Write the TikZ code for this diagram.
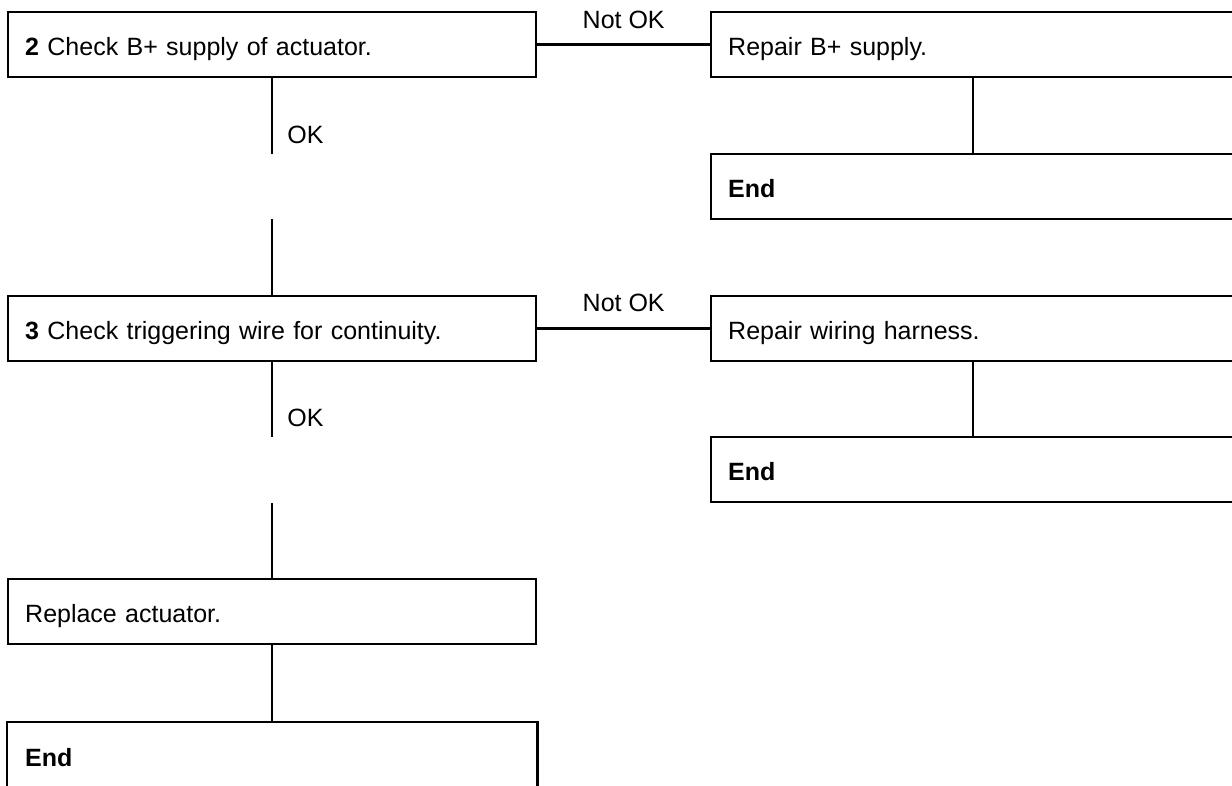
\documentclass[tikz,border=0pt]{standalone}
\usepackage{fontspec}
\setmainfont{Liberation Sans}
\usetikzlibrary{calc}
\begin{document}
\begin{tikzpicture}[x=1pt,y=-1pt,
  box/.style={draw, line width=2.4pt, rectangle, anchor=north west, minimum height=65pt,
    inner xsep=17pt, inner ysep=0pt, align=left, text height=21pt, text depth=0pt,
    font=\fontsize{25}{30}\selectfont},
  lbox/.style={box, text width=494pt},
  rbox/.style={box, text width=506pt},
  conn/.style={line width=2.4pt},
  lab/.style={font=\fontsize{25}{30}\selectfont, inner sep=0pt}]
\useasboundingbox (0,0) rectangle (1232,786);
\clip (0,0) rectangle (1232,786);
% left column
\node[lbox] (A) at (7,11) {\textbf{2} Check B+ supply of actuator.};
\node[lbox] (B) at (7,295) {\textbf{3} Check triggering wire for continuity.};
\node[lbox] (C) at (7,578) {Replace actuator.};
\node[lbox, draw=none] (D) at (7,722) {\textbf{End}};
\draw[conn] ($(D.south west)+(0,40)$) -- (D.north west) -- (D.north east) -- ($(D.south east)+(0,40)$);
% right column
\node[rbox] (RB) at (710,11) {Repair B+ supply.};
\node[rbox] (E1) at (710,153) {\textbf{End}};
\node[rbox] (RW) at (710,295) {Repair wiring harness.};
\node[rbox] (E2) at (710,436) {\textbf{End}};
% horizontal connectors
\draw[conn] (A.east) -- node[lab, anchor=base, yshift=16pt] (n1) {Not OK} (RB.west);
\draw[conn] (B.east) -- node[lab, anchor=base, yshift=17pt] (n2) {Not OK} (RW.west);
% broken OK connectors
\coordinate (a1) at ($(A.south)+(0,76)$);
\coordinate (a2) at ($(B.north)+(0,-76)$);
\draw[conn] (A.south) -- (a1);
\draw[conn] (a2) -- (B.north);
\node[lab, anchor=base west] (ok1) at ($(A.south)+(15,65)$) {OK};
\coordinate (b1) at ($(B.south)+(0,75)$);
\coordinate (b2) at ($(C.north)+(0,-75)$);
\draw[conn] (B.south) -- (b1);
\draw[conn] (b2) -- (C.north);
\node[lab, anchor=base west] (ok2) at ($(B.south)+(15,64)$) {OK};
\draw[conn] (C.south) -- (D.north);
% right verticals
\coordinate (rx) at (973,0);
\draw[conn] (rx |- RB.south) -- (rx |- E1.north);
\draw[conn] (rx |- RW.south) -- (rx |- E2.north);
\end{tikzpicture}
\end{document}
